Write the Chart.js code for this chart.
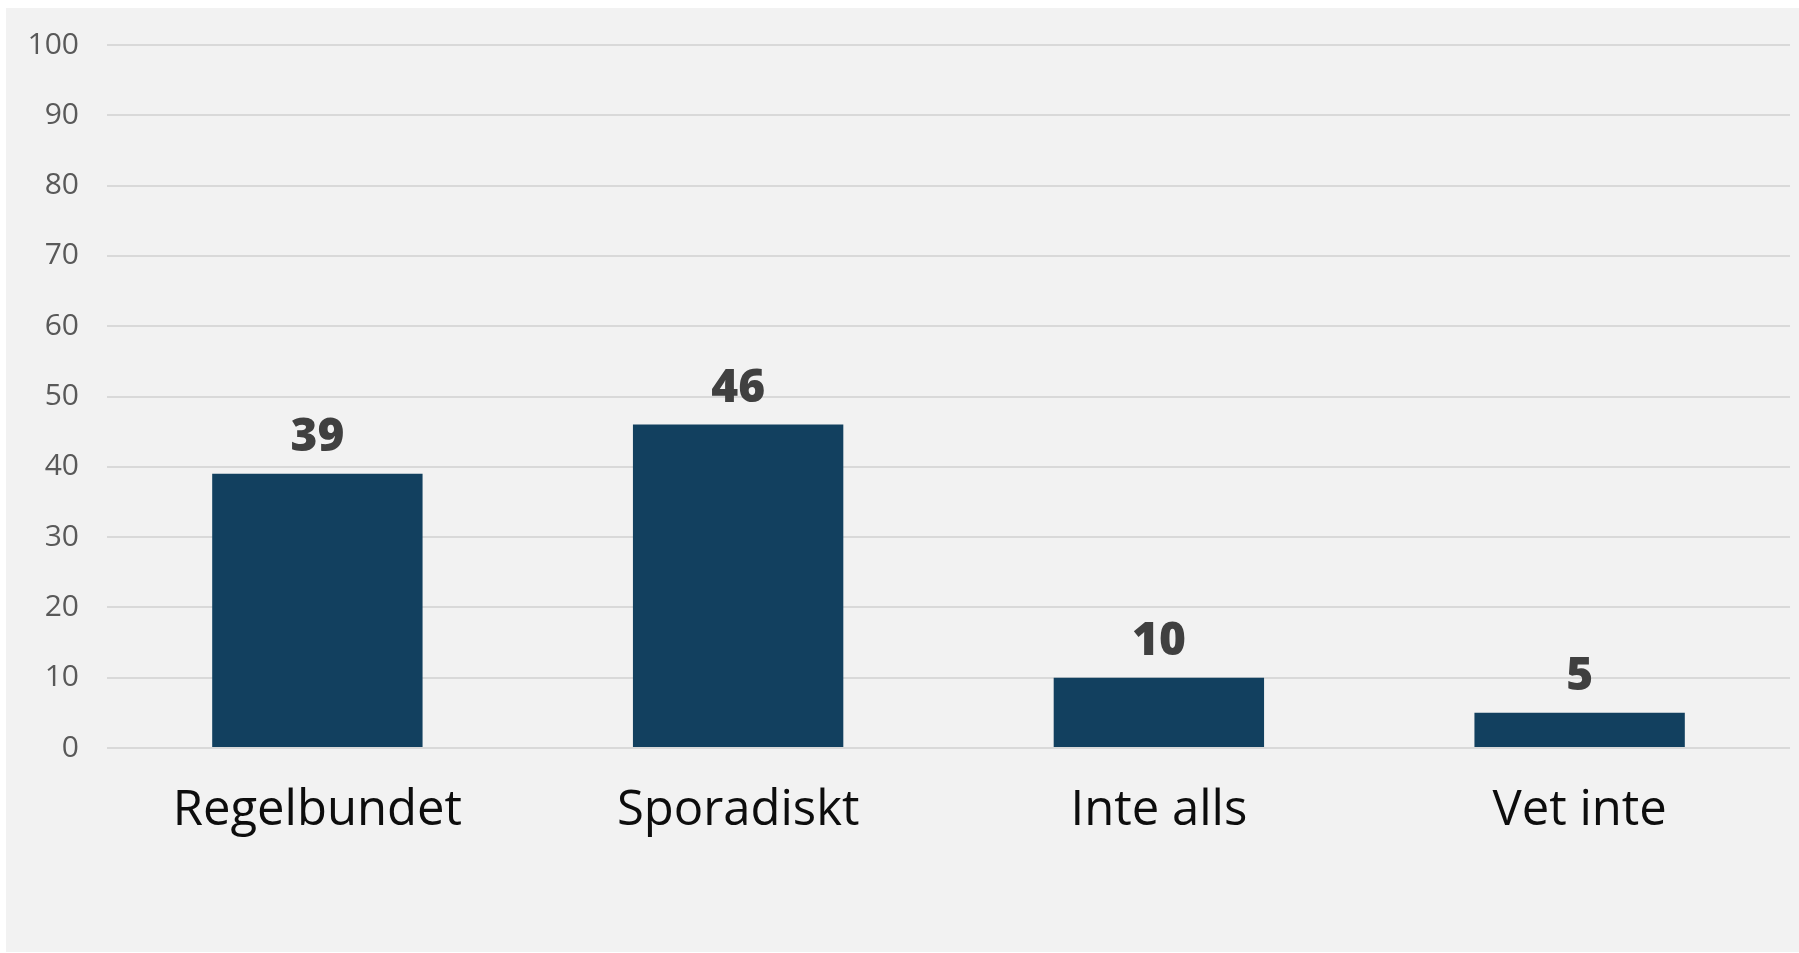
<!DOCTYPE html>
<html>
<head>
<meta charset="utf-8">
<script src="https://cdn.jsdelivr.net/npm/chart.js@4/dist/chart.umd.min.js"></script>
<style>
  html, body { margin: 0; padding: 0; background: #ffffff; }
  #panel {
    position: absolute; left: 6px; top: 8px;
    width: 1793px; height: 944px;
    background: #f2f2f2;
  }
</style>
</head>
<body>
<div id="panel"><canvas id="myChart"></canvas></div>
<script>
var kategorier = ['Regelbundet', 'Sporadiskt', 'Inte alls', 'Vet inte'];
var andel = [39, 46, 10, 5];
var yTicks = [0, 10, 20, 30, 40, 50, 60, 70, 80, 90, 100];

var stapelFarg = '#12405f';

// skriver värdet ovanför varje stapel
var etiketter = {
  id: 'etiketter',
  afterDatasetsDraw: function(chart) {
    var ctx = chart.ctx;
    var meta = chart.getDatasetMeta(0);
    ctx.save();
    ctx.font = '800 46px "Open Sans"';
    ctx.fillStyle = '#404040';
    ctx.textAlign = 'center';
    ctx.textBaseline = 'alphabetic';
    meta.data.forEach(function(bar, i) {
      ctx.fillText(String(chart.data.datasets[0].data[i]), bar.x, bar.y - 23);
    });
    ctx.restore();
  }
};

var ctx = document.getElementById('myChart').getContext('2d');
var chart = new Chart(ctx, {
  type: 'bar',
  data: {
    labels: kategorier,
    datasets: [{
      data: andel,
      backgroundColor: stapelFarg,
      borderWidth: 0,
      barPercentage: 0.5,
      categoryPercentage: 1
    }]
  },
  options: {
    responsive: true,
    maintainAspectRatio: false,
    animation: false,
    layout: { padding: { left: 0, right: 9, top: 0, bottom: 0 } },
    plugins: {
      legend: { display: false },
      tooltip: { enabled: false }
    },
    scales: {
      x: {
        grid: { display: false },
        border: { display: false },
        ticks: {
          color: '#0d0d0d',
          font: { family: 'Open Sans', size: 49 },
          padding: 26,
          maxRotation: 0
        },
        afterFit: function(s) { s.height = 204; }
      },
      y: {
        min: 0,
        max: 100,
        afterBuildTicks: function(s) {
          s.ticks = yTicks.map(function(v) { return { value: v }; });
        },
        grid: { color: '#d9d9d9', lineWidth: 2, drawTicks: false },
        border: { display: false },
        ticks: {
          color: '#595959',
          font: { family: 'Open Sans', size: 30 },
          padding: 28
        },
        afterFit: function(s) {
          s.width = 101;
          s.paddingTop = 37;
          s.paddingBottom = 0;
        }
      }
    }
  },
  plugins: [etiketter]
});
</script>
</body>
</html>
